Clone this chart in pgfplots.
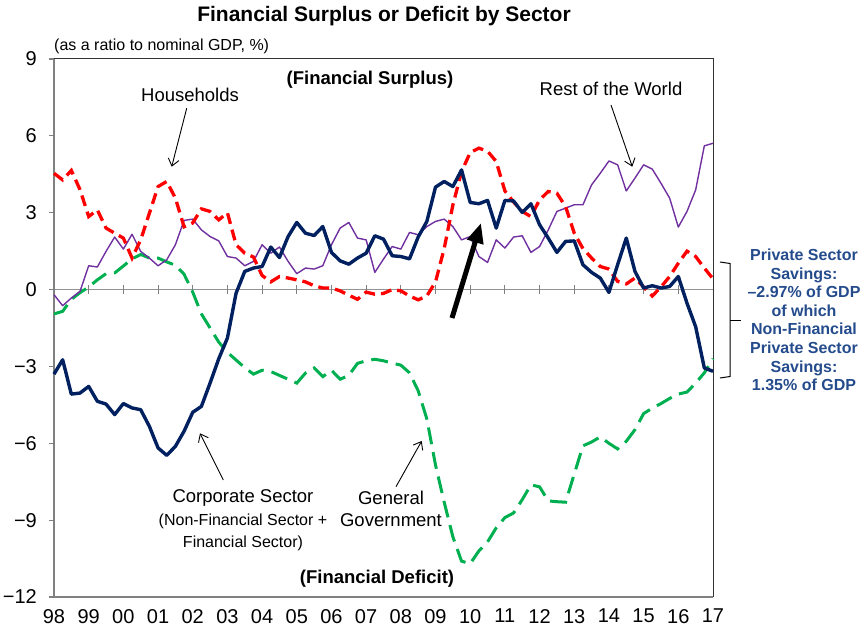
\documentclass[border=0pt]{standalone}
\usepackage{fontspec}
\setmainfont{Liberation Sans}
\usepackage{pgfplots}
\pgfplotsset{compat=1.18}
\usepackage{pgfplotstable}
\usetikzlibrary{arrows.meta}

\definecolor{corp}{RGB}{0,32,96}
\definecolor{hh}{RGB}{255,0,0}
\definecolor{gov}{RGB}{0,176,80}
\definecolor{rotw}{RGB}{112,48,160}
\definecolor{note}{RGB}{36,75,140}

% quarterly, 1998Q1 - 2017Q1, % of nominal GDP
\pgfplotstableread{
t       cor    hh     gov     row
1998.00 -3.30  4.54  -0.95  -0.20
1998.25 -2.74  4.28  -0.85  -0.63
1998.50 -4.08  4.65  -0.38  -0.33
1998.75 -4.04  3.90  -0.12  -0.07
1999.00 -3.78  2.85   0.10   0.93
1999.25 -4.36  3.11   0.38   0.88
1999.50 -4.47  2.40   0.62   1.49
1999.75 -4.88  2.20   0.65   2.05
2000.00 -4.45  2.01   0.92   1.58
2000.25 -4.62  1.23   1.20   2.16
2000.50 -4.69  1.94   1.37   1.49
2000.75 -5.34  2.98   1.23   1.23
2001.00 -6.18  4.02   1.23   0.93
2001.25 -6.47  4.22   1.08   1.16
2001.50 -6.12  3.57   0.95   1.75
2001.75 -5.53  2.45   0.60   2.70
2002.00 -4.79  2.60  -0.10   2.75
2002.25 -4.56  3.15  -0.95   2.33
2002.50 -3.65  3.05  -1.50   2.07
2002.75 -2.70  2.72  -2.05   1.90
2003.00 -1.89  3.00  -2.45   1.29
2003.25 -0.14  1.75  -2.75   1.23
2003.50  0.71  1.42  -3.05   0.93
2003.75  0.84  1.27  -3.30   1.10
2004.00  0.90  0.55  -3.15   1.75
2004.25  1.66  0.30  -3.20   1.42
2004.50  1.25  0.51  -3.35   1.66
2004.75  2.07  0.45  -3.50   1.10
2005.00  2.62  0.38  -3.65   0.62
2005.25  2.20  0.30  -3.26   0.84
2005.50  2.11  0.15  -3.06   0.80
2005.75  2.46  0.06  -3.40   0.93
2006.00  1.45  0.06  -3.15   1.75
2006.25  1.12 -0.05  -3.50   2.40
2006.50  0.99 -0.22  -3.35   2.62
2006.75  1.23 -0.38  -2.88   2.01
2007.00  1.42 -0.10  -2.78   1.94
2007.25  2.10 -0.18  -2.72   0.67
2007.50  1.97 -0.15  -2.78   1.19
2007.75  1.32  0.00  -2.87   1.68
2008.00  1.29 -0.05  -2.95   1.58
2008.25  1.20 -0.25  -3.25   2.23
2008.50  2.05 -0.40  -3.95   2.14
2008.75  2.66 -0.25  -5.05   2.46
2009.00  4.00  0.30  -6.85   2.66
2009.25  4.22  1.60  -8.30   2.75
2009.50  4.02  3.30  -9.65   2.46
2009.75  4.67  4.60 -10.60   1.94
2010.00  3.40  5.35 -10.70   2.07
2010.25  3.35  5.52 -10.20   1.29
2010.50  3.48  5.40  -9.85   1.06
2010.75  2.40  5.00  -9.30   1.94
2011.00  3.48  3.85  -8.90   1.62
2011.25  3.46  3.42  -8.72   2.05
2011.50  3.01  3.05  -8.20   2.10
2011.75  3.35  2.85  -7.62   1.45
2012.00  2.53  3.50  -7.70   1.68
2012.25  2.01  3.83  -8.25   2.33
2012.50  1.45  3.76  -8.28   3.05
2012.75  1.88  3.24  -8.30   3.18
2013.00  1.90  2.20  -7.20   3.31
2013.25  0.97  1.60  -6.10   3.31
2013.50  0.67  1.23  -5.95   4.09
2013.75  0.45  0.90  -5.75   4.54
2014.00 -0.11  0.80  -6.00   5.02
2014.25  0.97  0.32  -6.22   4.87
2014.50  2.01  0.22  -5.92   3.85
2014.75  0.71  0.45  -5.47   4.35
2015.00  0.06  0.10  -4.84   4.87
2015.25  0.15 -0.25  -4.63   4.70
2015.50  0.06  0.10  -4.45   4.15
2015.75  0.12  0.51  -4.25   3.57
2016.00  0.51  1.03  -4.08   2.44
2016.25 -0.53  1.50  -4.00   3.05
2016.50 -1.45  1.29  -3.65   3.89
2016.75 -3.06  0.84  -3.25   5.61
2017.00 -3.19  0.42  -2.70   5.71
}\sectors

\begin{document}
\begin{tikzpicture}
\begin{axis}[
  at={(0,0)}, anchor=south west,
  scale only axis, width=659pt, height=538pt,
  xmin=1998, xmax=2017, ymin=-12, ymax=9,
  xtick={1998,...,2017},
  xticklabels={98,99,00,01,02,03,04,05,06,07,08,09,10,11,12,13,14,15,16,17},
  ytick={-12,-9,...,9},
  yticklabels={−12,−9,−6,−3,0,3,6,9},
  tick label style={font=\fontsize{20}{24}\selectfont},
  xticklabel style={anchor=north, inner sep=0pt, yshift=-7pt},
  yticklabel style={anchor=east, inner sep=0pt, xshift=-12pt},
  xtick style={draw=none},
  ytick pos=left, tick align=outside, major tick length=5pt,
  ytick style={gray, line width=1.1pt},
  axis line style={draw=none},
  clip=false,
]
\draw[gray!85, line width=1.2pt] (axis cs:1998,0) -- (axis cs:2017,0);
\pgfplotsinvokeforeach{1999,...,2017}{
  \draw[gray, line width=1pt] (axis cs:#1,-0.16) -- (axis cs:#1,0.16);
}
\draw[gray, line width=1.3pt] (rel axis cs:0,1) -- (rel axis cs:0,0) -- (rel axis cs:1,0);
\draw[black!80, line width=1pt] (rel axis cs:0,1) -- (rel axis cs:1,1) -- (rel axis cs:1,0);

\addplot[gov, line width=3pt, dash pattern=on 17pt off 8pt] table[x=t, y=gov] {\sectors};
\addplot[rotw, line width=1.4pt, line join=round] table[x=t, y=row] {\sectors};
\addplot[hh, line width=3.3pt, dash pattern=on 11pt off 6pt] table[x=t, y=hh] {\sectors};
\addplot[corp, line width=3.4pt, line join=round] table[x=t, y=cor] {\sectors};
\end{axis}

% annotations, in pixel positions of the reference (origin top left)
\begin{scope}[x=1pt, y=1pt, shift={(-54pt,597pt)}, yscale=-1]
\node[font=\bfseries\fontsize{21}{25}\selectfont] at (384,16) {Financial Surplus or Deficit by Sector};
\node[anchor=west, inner sep=0pt, font=\fontsize{16}{19}\selectfont] at (54,46) {(as a ratio to nominal GDP, \%)};
\node[font=\bfseries\fontsize{18.5}{22}\selectfont] at (370,80) {(Financial Surplus)};
\node[font=\bfseries\fontsize{18.5}{22}\selectfont] at (377,579) {(Financial Deficit)};

\begin{scope}[every node/.style={font=\fontsize{18.5}{22}\selectfont}]
\node at (190,95) {Households};
\node at (611,89) {Rest of the World};
\node at (243,498) {Corporate Sector};
\node at (391,498) {General};
\node at (391,520) {Government};
\end{scope}
\node[font=\fontsize{16}{19}\selectfont] at (243,521) {(Non-Financial Sector +};
\node[font=\fontsize{16}{19}\selectfont] at (243,543) {Financial Sector)};

\begin{scope}[line width=0.9pt, -{Straight Barb[length=7pt,width=11pt]}]
\draw (186.7,108.3) -- (171.7,166.7);
\draw (611,105) -- (632.3,166.7);
\draw (223.3,480) -- (200,433.3);
\draw (396,486.7) -- (421.7,441);
\end{scope}
\draw[line width=5pt, -{Triangle[length=20pt,width=16pt]}] (452,318) -- (481,223);

\draw[line width=1pt] (720,262) -- (730,263.5) -- (730,376.5) -- (720,378);
\draw[line width=1pt] (730,320) -- (741,320);
\node[align=center, text=note, font=\bfseries\fontsize{16}{18.55}\selectfont] at (804,320)
  {Private Sector\\Savings:\\–2.97\% of GDP\\of which\\Non-Financial\\Private Sector\\Savings:\\1.35\% of GDP};

\pgfresetboundingbox
\path (0,0) rectangle (863,625);
\end{scope}
\end{tikzpicture}
\end{document}
